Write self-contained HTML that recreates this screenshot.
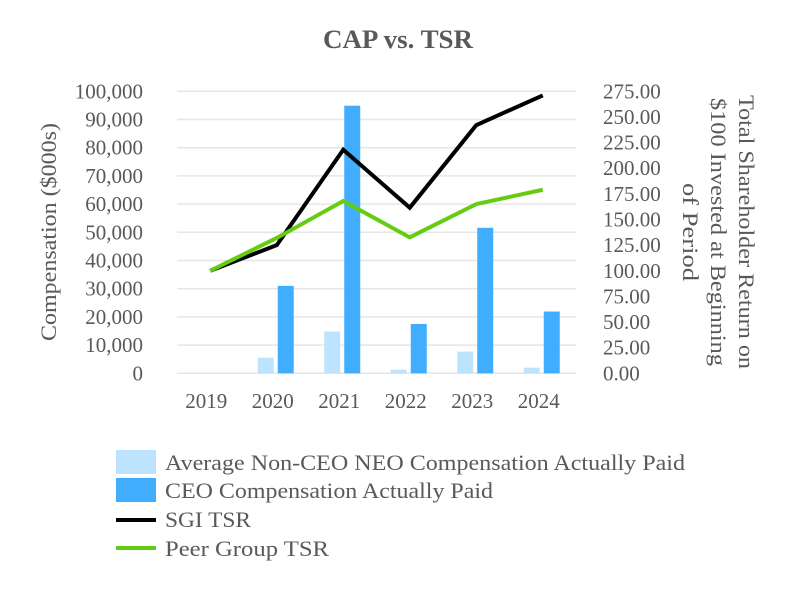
<!DOCTYPE html>
<html><head><meta charset="utf-8"><style>
body{margin:0;background:#fff;}
svg text{font-family:"Liberation Serif","Times New Roman",serif;fill:#595959;}
</style></head><body>
<svg width="800" height="600" xmlns="http://www.w3.org/2000/svg" font-family="Liberation Serif, Times New Roman, serif">
<rect width="800" height="600" fill="#fff"/>
<text x="398" y="48" text-anchor="middle" font-size="26" font-weight="bold" textLength="150" lengthAdjust="spacingAndGlyphs">CAP vs. TSR</text>
<g id="grid"></g><g id="bars"></g><g id="lines"></g><g id="axes"></g>
<text transform="translate(56,232) rotate(-90)" text-anchor="middle" font-size="22" textLength="218" lengthAdjust="spacingAndGlyphs">Compensation ($000s)</text>
<g font-size="22">
<text transform="translate(739,232) rotate(90)" text-anchor="middle" textLength="274" lengthAdjust="spacingAndGlyphs">Total Shareholder Return on</text>
<text transform="translate(711,232) rotate(90)" text-anchor="middle" textLength="268" lengthAdjust="spacingAndGlyphs">$100 Invested at Beginning</text>
<text transform="translate(683,232) rotate(90)" text-anchor="middle" textLength="98" lengthAdjust="spacingAndGlyphs">of Period</text>
</g>
<g font-size="22">
<rect x="116" y="450" width="40" height="24" fill="#BDE3FE"/>
<text x="165" y="470" textLength="520" lengthAdjust="spacingAndGlyphs">Average Non-CEO NEO Compensation Actually Paid</text>
<rect x="116" y="478" width="40" height="24" fill="#41ADFF"/>
<text x="165" y="498" textLength="328" lengthAdjust="spacingAndGlyphs">CEO Compensation Actually Paid</text>
<line x1="116" y1="520" x2="156" y2="520" stroke="#000" stroke-width="4"/>
<text x="165" y="527" textLength="86" lengthAdjust="spacingAndGlyphs">SGI TSR</text>
<line x1="116" y1="548" x2="156" y2="548" stroke="#66CC11" stroke-width="4"/>
<text x="165" y="556" textLength="164" lengthAdjust="spacingAndGlyphs">Peer Group TSR</text>
</g>
</svg>
<script>
const years=['2019','2020','2021','2022','2023','2024'];
const nonCeo=[0,5500,14800,1300,7700,2000];
const ceo=[0,31000,94900,17500,51600,21900];
const sgiTsr=[100,125,218,161.5,242,271];
const peerTsr=[100,132,168,132.6,165,179];
const leftTicks=['0','10,000','20,000','30,000','40,000','50,000','60,000','70,000','80,000','90,000','100,000'];
const rightTicks=['0.00','25.00','50.00','75.00','100.00','125.00','150.00','175.00','200.00','225.00','250.00','275.00'];
const NS='http://www.w3.org/2000/svg';
const X0=177,X1=576,Y0=373.3,Y1=91.3;
const bw=(X1-X0)/years.length;
const xc=i=>X0+bw*(i+0.5);
const yl=v=>Y0-(v/100000)*(Y0-Y1);
const yr=v=>Y0-(v/275)*(Y0-Y1);
function mk(tag,attrs,parent){const e=document.createElementNS(NS,tag);for(const k in attrs)e.setAttribute(k,attrs[k]);document.getElementById(parent).appendChild(e);return e;}
for(let i=0;i<leftTicks.length;i++){
 const y=yl(i*10000);
 const g=mk('line',{x1:X0,x2:X1,y1:y,y2:y,stroke:'#e6e6e6','stroke-width':1.5},'grid');
 
 
 const t=mk('text',{x:143,y:y+7,'text-anchor':'end','font-size':21},'axes');t.textContent=leftTicks[i];
 
 
}
for(let i=0;i<rightTicks.length;i++){
 const y=yr(i*25);
 const t=mk('text',{x:603,y:y+7,'font-size':21},'axes');t.textContent=rightTicks[i];
 
 
}
years.forEach((yv,i)=>{
 const t=mk('text',{x:xc(i)-4,y:408,'text-anchor':'middle','font-size':21},'axes');t.textContent=yv;
 
 
 if(nonCeo[i]>0){const b=mk('rect',{x:xc(i)-19,y:yl(nonCeo[i]),width:16,height:Y0-yl(nonCeo[i]),fill:'#BDE3FE'},'bars');
 
 }
 if(ceo[i]>0){const b=mk('rect',{x:xc(i)+1,y:yl(ceo[i]),width:16,height:Y0-yl(ceo[i]),fill:'#41ADFF'},'bars');
 
 }
});
const sp=sgiTsr.map((v,i)=>xc(i)+','+yr(v)).join(' ');
const s=mk('polyline',{points:sp,fill:'none',stroke:'#000','stroke-width':4,'stroke-linejoin':'miter'},'lines');


const pp=peerTsr.map((v,i)=>xc(i)+','+yr(v)).join(' ');
const p=mk('polyline',{points:pp,fill:'none',stroke:'#66CC11','stroke-width':4},'lines');


</script>
</body></html>
